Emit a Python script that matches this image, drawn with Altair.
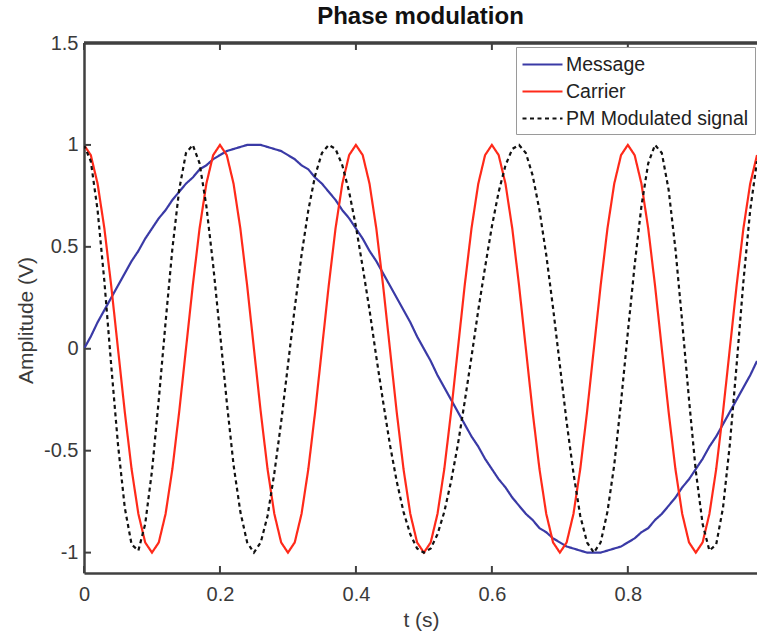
import altair as alt
import pandas as pd

# time samples (s)
t = [round(k * 0.01, 2) for k in range(100)]

message = [
    0, 0.06, 0.13, 0.19, 0.25, 0.31, 0.37, 0.43, 0.48, 0.54, 0.59, 0.64, 0.68, 0.73, 0.77, 0.81, 0.84, 0.88, 0.90, 0.93, 0.95, 0.97, 0.98, 0.99, 1.00, 1.00,
    1.00, 0.99, 0.98, 0.97, 0.95, 0.93, 0.90, 0.88, 0.84, 0.81, 0.77, 0.73, 0.68, 0.64, 0.59, 0.54, 0.48, 0.43, 0.37, 0.31, 0.25, 0.19, 0.13, 0.06, 0,
    -0.06, -0.13, -0.19, -0.25, -0.31, -0.37, -0.43, -0.48, -0.54, -0.59, -0.64, -0.68, -0.73, -0.77, -0.81, -0.84, -0.88, -0.90, -0.93, -0.95, -0.97, -0.98, -0.99, -1.00, -1.00,
    -1.00, -0.99, -0.98, -0.97, -0.95, -0.93, -0.90, -0.88, -0.84, -0.81, -0.77, -0.73, -0.68, -0.64, -0.59, -0.54, -0.48, -0.43, -0.37, -0.31, -0.25, -0.19, -0.13, -0.06,
]

carrier = [
    1.00, 0.95, 0.81, 0.59, 0.31, 0.00, -0.31, -0.59, -0.81, -0.95, -1.00, -0.95, -0.81, -0.59, -0.31, 0.00, 0.31, 0.59, 0.81, 0.95,
    1.00, 0.95, 0.81, 0.59, 0.31, 0.00, -0.31, -0.59, -0.81, -0.95, -1.00, -0.95, -0.81, -0.59, -0.31, 0.00, 0.31, 0.59, 0.81, 0.95,
    1.00, 0.95, 0.81, 0.59, 0.31, 0.00, -0.31, -0.59, -0.81, -0.95, -1.00, -0.95, -0.81, -0.59, -0.31, 0.00, 0.31, 0.59, 0.81, 0.95,
    1.00, 0.95, 0.81, 0.59, 0.31, 0.00, -0.31, -0.59, -0.81, -0.95, -1.00, -0.95, -0.81, -0.59, -0.31, 0.00, 0.31, 0.59, 0.81, 0.95,
    1.00, 0.95, 0.81, 0.59, 0.31, 0.00, -0.31, -0.59, -0.81, -0.95, -1.00, -0.95, -0.81, -0.59, -0.31, 0.00, 0.31, 0.59, 0.81, 0.95,
]

pm_signal = [
    1.00, 0.92, 0.68, 0.33, -0.08, -0.47, -0.78, -0.96, -0.99, -0.86,
    -0.60, -0.25, 0.13, 0.49, 0.78, 0.96, 1.00, 0.91, 0.70, 0.41,
    0.08, -0.26, -0.57, -0.80, -0.95, -1.00, -0.95, -0.82, -0.61, -0.36,
    -0.08, 0.20, 0.46, 0.68, 0.85, 0.96, 1.00, 0.98, 0.90, 0.77,
    0.60, 0.40, 0.19, -0.04, -0.26, -0.47, -0.65, -0.80, -0.91, -0.98,
    -1.00, -0.98, -0.91, -0.80, -0.65, -0.47, -0.26, -0.04, 0.19, 0.40,
    0.60, 0.77, 0.90, 0.98, 1.00, 0.96, 0.85, 0.68, 0.46, 0.20,
    -0.08, -0.36, -0.61, -0.82, -0.95, -1.00, -0.95, -0.80, -0.57, -0.26,
    0.08, 0.41, 0.70, 0.91, 1.00, 0.96, 0.78, 0.49, 0.13, -0.25,
    -0.60, -0.86, -0.99, -0.96, -0.78, -0.47, -0.08, 0.33, 0.68, 0.92,
]

series_names = ["Message", "Carrier", "PM Modulated signal"]
series_colors = ["#3a3aa6", "#ff2a1a", "#111111"]
x_ticks = [0, 0.2, 0.4, 0.6, 0.8]
y_ticks = [-1, -0.5, 0, 0.5, 1, 1.5]

rows = []
for name, vals in zip(series_names, [message, carrier, pm_signal]):
    for i, (tt, v) in enumerate(zip(t, vals)):
        rows.append({"t": tt, "v": v, "series": name, "order": i})
df = pd.DataFrame(rows)

W, H = 673, 530
AX = "#404040"
FONT = "Liberation Sans"

xscale = alt.Scale(domain=[0, 0.99], nice=False, zero=False)
yscale = alt.Scale(domain=[-1.1, 1.5], nice=False, zero=False)

x_axis = alt.Axis(
    values=x_ticks, title="t (s)", labelExpr="format(datum.value, '~g')",
    titleX=337, titleY=47, titleBaseline="middle", titleAnchor="start", titleAlign="center",
    labelPadding=11, labelFlush=False)
y_axis = alt.Axis(
    values=y_ticks, title="Amplitude (V)",
    labelExpr="datum.value < 0 ? '-' + format(-datum.value, '~g') : format(datum.value, '~g')",
    titleX=-58, titleY=277, titleBaseline="middle", titleAnchor="start", titleAlign="center",
    labelPadding=6, labelFlush=False)

lines = alt.Chart(df).mark_line(clip=True).encode(
    x=alt.X("t:Q", scale=xscale, axis=x_axis),
    y=alt.Y("v:Q", scale=yscale, axis=y_axis),
    color=alt.Color("series:N", scale=alt.Scale(domain=series_names, range=series_colors),
                    legend=alt.Legend(title=None)),
    strokeDash=alt.StrokeDash("series:N", scale=alt.Scale(domain=series_names, range=[[1, 0], [1, 0], [4, 3.5]]),
                              legend=alt.Legend(title=None)),
    strokeWidth=alt.StrokeWidth("series:N", scale=alt.Scale(domain=series_names, range=[2.2, 2.2, 2.6]),
                                legend=None),
    order="order:Q",
)

ytick_df = pd.DataFrame({"v": y_ticks})
xtick_df = pd.DataFrame({"t": x_ticks})

ytk = alt.Chart(ytick_df).mark_rule(color=AX, strokeWidth=2).encode(
    y=alt.Y("v:Q", scale=yscale, axis=y_axis), x=alt.value(0), x2=alt.value(7))
xtk_b = alt.Chart(xtick_df).mark_rule(color=AX, strokeWidth=2).encode(
    x=alt.X("t:Q", scale=xscale, axis=x_axis), y=alt.value(H), y2=alt.value(H - 7))
xtk_t = alt.Chart(xtick_df).mark_rule(color=AX, strokeWidth=2).encode(
    x=alt.X("t:Q", scale=xscale, axis=x_axis), y=alt.value(0), y2=alt.value(7))
top_border = alt.Chart(xtick_df).mark_rule(color=AX, strokeWidth=2.5).encode(
    x=alt.value(0), x2=alt.value(W), y=alt.value(0))

chart = alt.layer(lines, ytk, xtk_b, xtk_t, top_border).properties(
    width=W, height=H,
    title=alt.TitleParams("Phase modulation", fontSize=24, fontWeight="bold", font=FONT,
                          color="#111111", anchor="middle", frame="group", offset=4),
    autosize=alt.AutoSizeParams(type="none"),
    padding={"left": 84, "top": 43, "right": 0, "bottom": 65},
).configure_view(stroke=None).configure_axis(
    domainColor=AX, domainWidth=2.5, ticks=False, tickSize=0, grid=False,
    labelColor="#3a3a3a", labelFont=FONT, labelFontSize=20,
    titleColor="#3a3a3a", titleFont=FONT, titleFontSize=21, titleFontWeight="normal",
).configure_legend(
    orient="none", legendX=432, legendY=4, symbolType="M-3,0H1", symbolSize=400,
    symbolOffset=19, symbolStrokeWidth=2.2, labelFont=FONT, labelFontSize=19.5, labelColor="#222222",
    labelLimit=400, strokeColor="#9a9a9a", fillColor="white", padding=6, rowPadding=6,
    labelOffset=2, cornerRadius=0,
)

chart.save("out.html", embed_options={"renderer": "svg", "actions": False})
